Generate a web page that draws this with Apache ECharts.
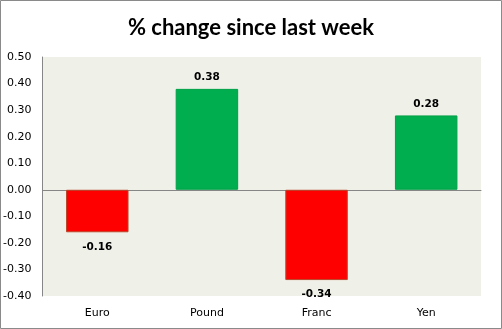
<!DOCTYPE html>
<html><head><meta charset="utf-8">
<script src="https://cdn.jsdelivr.net/npm/echarts@6/dist/echarts.min.js"></script>
<style>html,body{margin:0;padding:0;background:#fff}#c{width:502px;height:329px}</style>
</head><body><div id="c"></div>
<script>
var categories = ['Euro', 'Pound', 'Franc', 'Yen'];
var values = [-0.16, 0.38, -0.34, 0.28];
var yMin = -0.4, yMax = 0.5, yStep = 0.1;
var titleText = '% change since last week';

var chart = echarts.init(document.getElementById('c'), null, {renderer: 'canvas'});
var data = values.map(function (v) {
  return {
    value: v,
    itemStyle: v < 0 ? {color: '#ff0000', borderColor: '#b9472b', borderWidth: 1}
                     : {color: '#00ae4f', borderColor: '#00a048', borderWidth: 1},
    label: {position: v < 0 ? 'bottom' : 'top', distance: v < 0 ? 9 : 6}
  };
});
chart.setOption({
  animation: false,
  backgroundColor: '#ffffff',
  title: {
    text: titleText, left: 'center', top: 12,
    textStyle: {fontFamily: 'Lato', fontWeight: 'bold', fontSize: 22, color: '#000'}
  },
  grid: {left: 42, right: 21, top: 57, bottom: 33, show: true, backgroundColor: '#eff1e8', borderWidth: 0},
  xAxis: [{
    type: 'category', data: categories,
    axisLine: {onZero: true, lineStyle: {color: '#868686', width: 1}},
    axisTick: {show: false}, axisLabel: {show: false}
  }, {
    type: 'category', data: categories, position: 'bottom',
    axisLine: {show: false, onZero: false}, axisTick: {show: false},
    axisLabel: {margin: 12, fontFamily: 'DejaVu Sans', fontSize: 11, color: '#000'}
  }],
  yAxis: {
    type: 'value', min: yMin, max: yMax, interval: yStep,
    axisLine: {show: true, lineStyle: {color: '#868686'}},
    axisTick: {show: false}, splitLine: {show: false},
    axisLabel: {margin: 11, fontFamily: 'DejaVu Sans', fontSize: 11, color: '#000',
      formatter: function (v) { return v.toFixed(2); }}
  },
  series: [{
    type: 'bar', xAxisIndex: 0, data: data, barWidth: '57%',
    label: {show: true, fontFamily: 'DejaVu Sans', fontWeight: 'bold', fontSize: 10.5, color: '#000',
      formatter: function (p) { return p.value.toFixed(2); }}
  }],
  graphic: [{
    type: 'rect', shape: {x: 0.5, y: 0.5, width: 501, height: 328},
    style: {fill: 'none', stroke: '#8a8a8a', lineWidth: 1}, z: 100
  }]
});
</script></body></html>
